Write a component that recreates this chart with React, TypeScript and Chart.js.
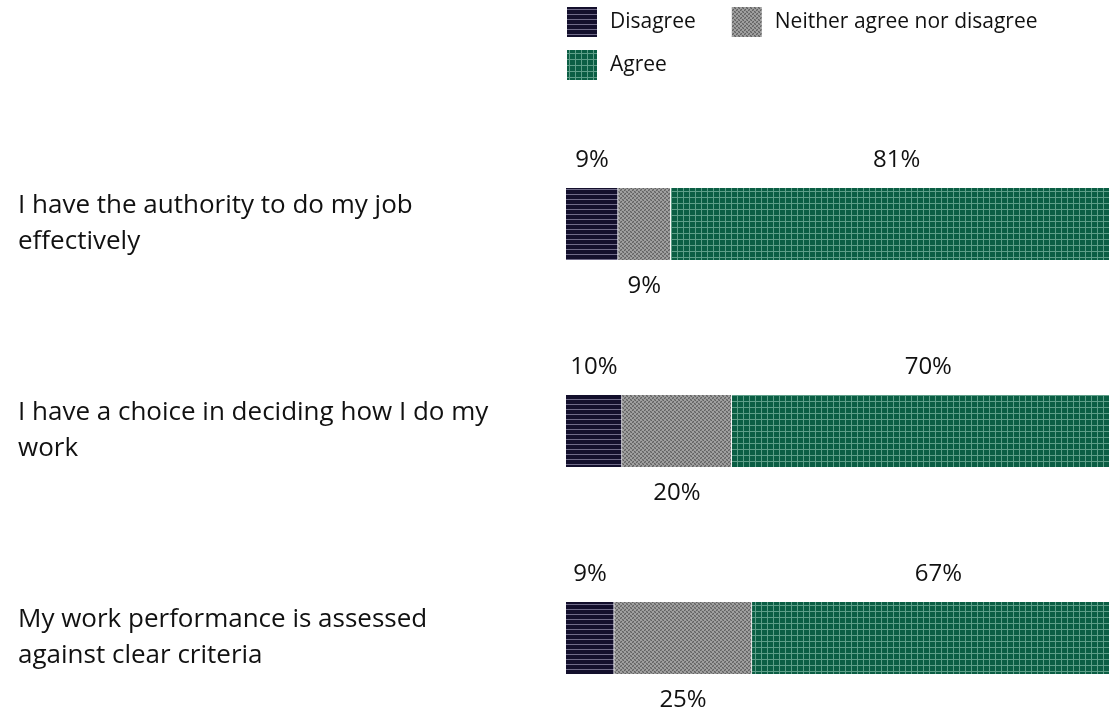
import React, { useEffect, useRef } from "react";
import { Chart, registerables } from "chart.js";

Chart.register(...registerables);

const categories: string[][] = [
  ["I have the authority to do my job", "effectively"],
  ["I have a choice in deciding how I do my", "work"],
  ["My work performance is assessed", "against clear criteria"],
];
const seriesNames = ["Disagree", "Neither agree nor disagree", "Agree"];
const disagree = [9.3, 10.0, 8.6];
const neither = [9.4, 19.6, 24.6];
const agree = [80.7, 70.2, 66.6];

const FONT = "'Open Sans'";

function makePattern(kind: string): CanvasPattern | string {
  const c = document.createElement("canvas");
  const ctx = c.getContext("2d")!;
  if (kind === "h") {
    c.width = 8; c.height = 5;
    ctx.fillStyle = "#130f2c"; ctx.fillRect(0, 0, 8, 5);
    ctx.fillStyle = "#6f6a88"; ctx.fillRect(0, 4, 8, 1);
  } else if (kind === "g") {
    c.width = 6; c.height = 6;
    ctx.fillStyle = "#0b5e44"; ctx.fillRect(0, 0, 6, 6);
    ctx.fillStyle = "#5e9e88"; ctx.fillRect(5, 0, 1, 6); ctx.fillRect(0, 5, 6, 1);
  } else {
    c.width = 8; c.height = 4;
    const rows = [
      "LLMDLLMD",
      "MDLLMDLL",
      "DMLLDMLL",
      "LLDMLLDM",
    ];
    const col: Record<string, string> = { D: "#626262", L: "#a0a0a0", M: "#818181" };
    rows.forEach((r, y) => r.split("").forEach((ch, x) => { ctx.fillStyle = col[ch]; ctx.fillRect(x, y, 1, 1); }));
  }
  const p = ctx.createPattern(c, "repeat");
  return p || "#777";
}

const labelPlugin = {
  id: "segLabels",
  afterDatasetsDraw(chart: any) {
    const ctx = chart.ctx;
    ctx.save();
    ctx.font = `24px ${FONT}`;
    ctx.fillStyle = "#111";
    ctx.textAlign = "center";
    ctx.textBaseline = "alphabetic";
    chart.data.datasets.forEach((ds: any, di: number) => {
      const meta = chart.getDatasetMeta(di);
      meta.data.forEach((bar: any, i: number) => {
        const v = ds.data[i];
        const cx = (bar.x + bar.base) / 2;
        const half = bar.height / 2;
        const y = di === 1 ? bar.y + half + 33 : bar.y - half - 21;
        ctx.fillText(Math.round(v) + "%", cx, y);
      });
    });
    ctx.restore();
  },
};

const legendPlugin = {
  id: "patLegend",
  afterDraw(chart: any) {
    const ctx = chart.ctx;
    ctx.save();
    ctx.font = `21px ${FONT}`;
    ctx.fillStyle = "#111";
    ctx.textBaseline = "middle";
    ctx.textAlign = "left";
    const startX = chart.chartArea.left + 1;
    const maxX = 1109;
    let x = startX;
    let y = 22;
    chart.data.datasets.forEach((ds: any) => {
      const tw = ctx.measureText(ds.label).width;
      const w = 30 + 13 + tw;
      if (x + w > maxX) { x = startX; y += 43; }
      ctx.fillStyle = ds.backgroundColor;
      ctx.fillRect(x, y - 15, 30, 30);
      ctx.fillStyle = "#111";
      ctx.fillText(ds.label, x + 43, y);
      x += w + 36;
    });
    ctx.restore();
  },
};

export default function App() {
  const ref = useRef<HTMLCanvasElement>(null);
  useEffect(() => {
    const canvas = ref.current!;
    const patterns = [makePattern("h"), makePattern("n"), makePattern("g")];
    const values = [disagree, neither, agree];
    const chart = new Chart(canvas, {
      type: "bar",
      data: {
        labels: categories,
        datasets: seriesNames.map((name, i) => ({
          label: name,
          data: values[i],
          backgroundColor: patterns[i] as any,
          borderColor: "#ffffff",
          borderWidth: { left: 0, right: 1, top: 0, bottom: 0 },
          borderSkipped: false,
          barThickness: 72,
        })),
      },
      options: {
        indexAxis: "y",
        animation: false,
        responsive: false,
        devicePixelRatio: 1,
        layout: { padding: { left: 18, right: 14, top: 120.5, bottom: 40.5 } },
        plugins: { legend: { display: false }, tooltip: { enabled: false } },
        scales: {
          x: { stacked: true, min: 0, max: 100, display: false },
          y: {
            stacked: true,
            grid: { display: false },
            border: { display: false },
            afterFit: (s: any) => { s.width = 548; },
            ticks: {
              crossAlign: "far",
              padding: 0,
              color: "#111",
              font: { family: FONT, size: 26, lineHeight: 36 / 26 },
            },
          },
        },
      },
      plugins: [labelPlugin, legendPlugin],
    });
    return () => chart.destroy();
  }, []);
  return (
    <div style={{ position: "fixed", left: 0, top: 0, width: 1109, height: 713, overflow: "hidden", background: "#fff" }}>
      <canvas ref={ref} width={1140} height={782} style={{ width: 1140, height: 782, display: "block" }} />
    </div>
  );
}
